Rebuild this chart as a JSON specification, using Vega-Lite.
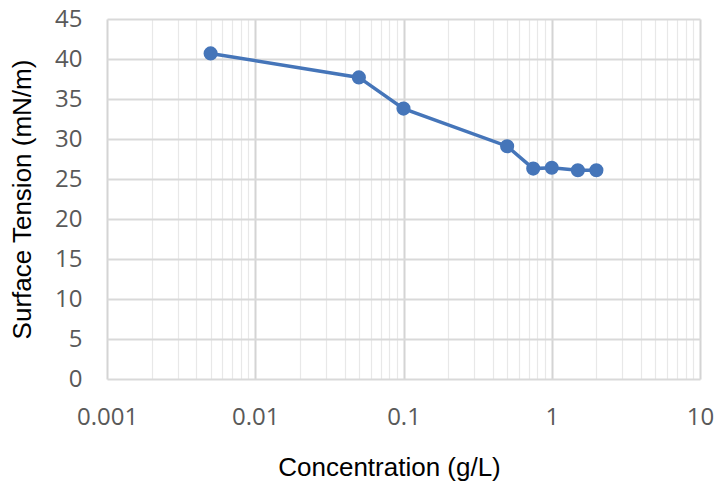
{
  "$schema": "https://vega.github.io/schema/vega-lite/v6.json",
  "width": 593,
  "height": 360,
  "autosize": "none",
  "padding": {"left": 107, "top": 19, "right": 19, "bottom": 103},
  "background": "white",
  "config": {"view": {"stroke": null}},
  "data": {
    "values": [
      {"c": 0.005, "st": 40.7},
      {"c": 0.05, "st": 37.7},
      {"c": 0.1, "st": 33.8},
      {"c": 0.5, "st": 29.1},
      {"c": 0.75, "st": 26.3},
      {"c": 1.0, "st": 26.4},
      {"c": 1.5, "st": 26.1},
      {"c": 2.0, "st": 26.1}
    ]
  },
  "encoding": {
    "x": {
      "field": "c",
      "type": "quantitative",
      "title": "Concentration (g/L)",
      "scale": {"type": "log", "domain": [0.001, 10], "nice": false},
      "axis": {
        "values": [0.001,0.002,0.003,0.004,0.005,0.006,0.007,0.008,0.009,0.01,0.02,0.03,0.04,0.05,0.06,0.07,0.08,0.09,0.1,0.2,0.3,0.4,0.5,0.6,0.7,0.8,0.9,1,2,3,4,5,6,7,8,9,10],
        "labelExpr": "indexof(['0.001','0.01','0.1','1','10'], '' + datum.value) >= 0 ? '' + datum.value : ''",
        "domain": false,
        "ticks": false,
        "gridColor": {"condition": {"test": "indexof([0.001,0.01,0.1,1,10], datum.value) >= 0", "value": "#d4d4d4"}, "value": "#e8e8e8"},
        "gridWidth": {"condition": {"test": "indexof([0.001,0.01,0.1,1,10], datum.value) >= 0", "value": 2}, "value": 1.2},
        "labelFont": "Open Sans",
        "labelFontSize": 24,
        "labelColor": "#595959",
        "labelPadding": 26,
        "labelOverlap": false,
        "labelFlush": false,
        "titleFont": "Liberation Sans",
        "titleFontSize": 26,
        "titleFontWeight": "normal",
        "titleColor": "#000000",
        "titleBaseline": "alphabetic",
        "titleX": 282,
        "titleY": 96
      }
    },
    "y": {
      "field": "st",
      "type": "quantitative",
      "title": "Surface Tension (mN/m)",
      "scale": {"domain": [0, 45], "nice": false},
      "axis": {
        "values": [0,5,10,15,20,25,30,35,40,45],
        "domain": false,
        "ticks": false,
        "gridColor": "#d9d9d9",
        "gridWidth": 1.8,
        "labelFont": "Open Sans",
        "labelFontSize": 24,
        "labelColor": "#595959",
        "labelPadding": 25,
        "titleFont": "Liberation Sans",
        "titleFontSize": 26,
        "titleFontWeight": "normal",
        "titleColor": "#000000",
        "titleBaseline": "alphabetic",
        "titleX": -77
      }
    }
  },
  "layer": [
    {"mark": {"type": "line", "color": "#4575b9", "strokeWidth": 3.5}},
    {"mark": {"type": "point", "shape": "circle", "filled": true, "opacity": 1, "color": "#4575b9", "size": 200}}
  ]
}
